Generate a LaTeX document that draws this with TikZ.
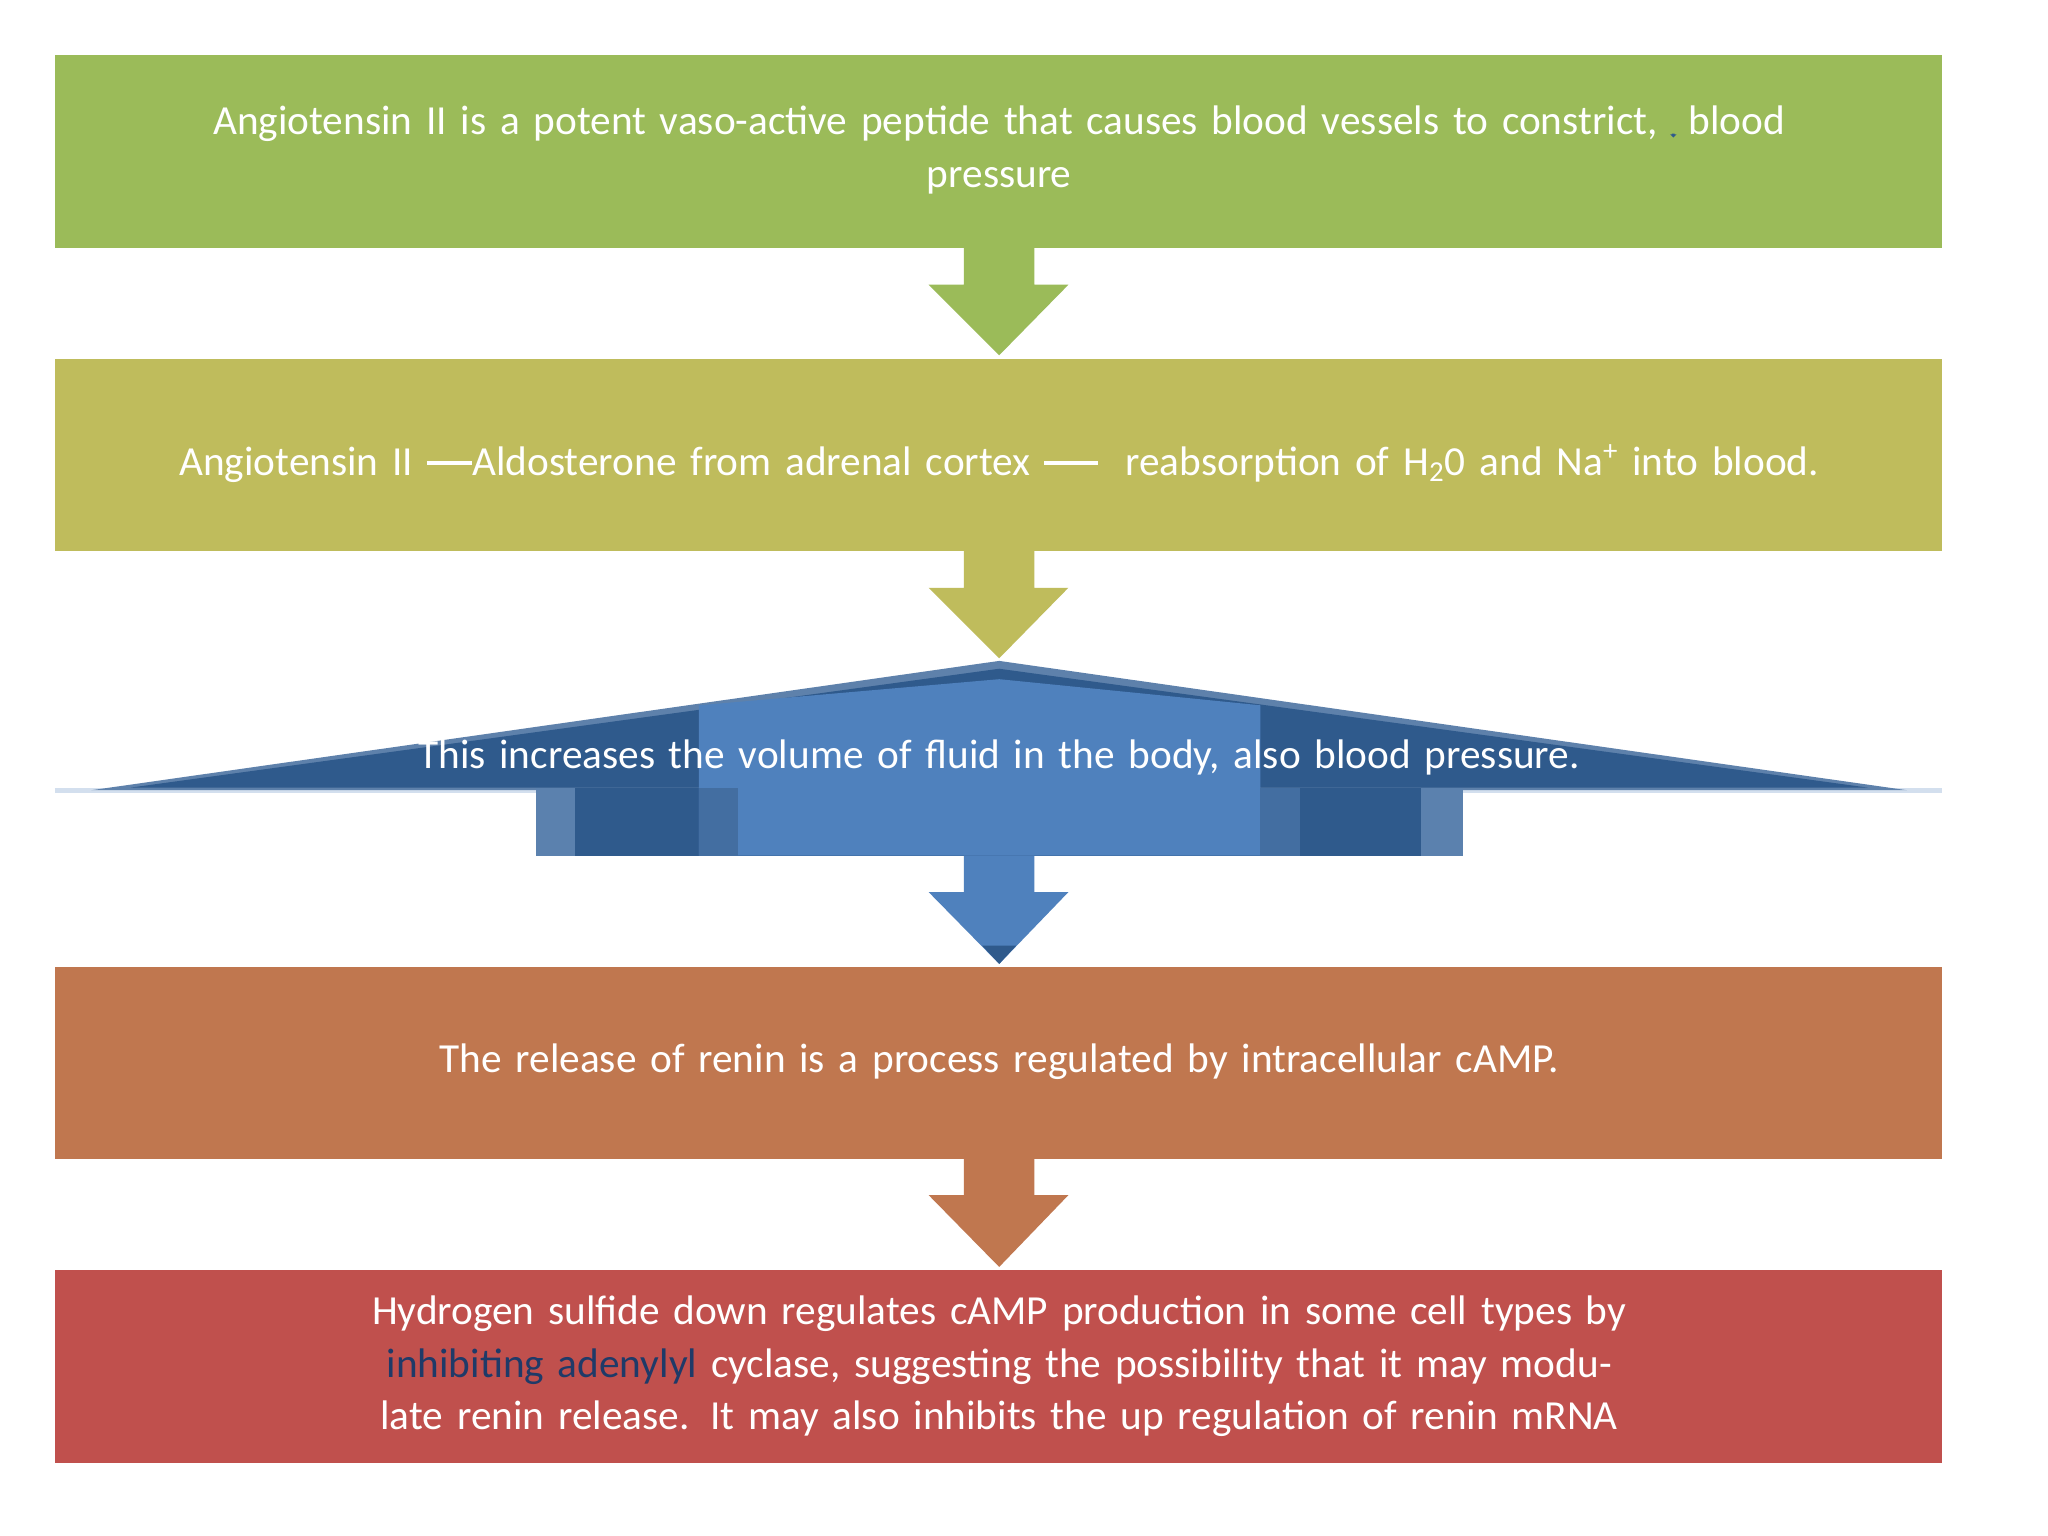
\documentclass[tikz,border=0pt]{standalone}
\usepackage{fontspec}
\setmainfont{Carlito}
\definecolor{gA}{HTML}{9BBB59}
\definecolor{oA}{HTML}{BFBC5C}
\definecolor{bA}{HTML}{4F81BD}
\definecolor{bD}{HTML}{2F5A8C}
\definecolor{rA}{HTML}{C0774F}
\definecolor{rB}{HTML}{C0504D}
\definecolor{tB}{HTML}{1F3A68}
\begin{document}
\begin{tikzpicture}[x=0.02cm,y=-0.02cm,
  txt/.style={text=white,font=\fontsize{18}{23}\selectfont,align=center,text width=28cm},
  box/.style={draw=none}]
\useasboundingbox (0,0) rectangle (1568,1176);
\fill[white] (0,0) rectangle (1568,1176);
\newcommand{\downarr}[3]{\fill[#1] (738,#2)--(792,#2)--(792,#2+28)--(818,#2+28)--(765,#3)--(711,#2+28)--(738,#2+28)--cycle;}
% box 1
\fill[gA] (42,42) rectangle (1487,190);
\node[txt] (t1) at (765,115) {Angiotensin II is a potent vaso-active peptide that causes blood vessels to constrict, \tikz[baseline=0pt]{\fill[bA,draw=bD,line width=1pt] (-0.22,-0.1)--(0.22,-0.1)--(0.22,0.45)--(0.4,0.45)--(0,0.85)--(-0.4,0.45)--(-0.22,0.45)--cycle;} blood\\ pressure};
\downarr{gA}{190}{272}
% box 2
\fill[oA] (42,275) rectangle (1487,422);
\node[txt] (t2) at (765,355) {Angiotensin II \rule[0.5ex]{1.1em}{2pt}Aldosterone from adrenal cortex \rule[0.5ex]{1.3em}{2pt}\ \ reabsorption of H\textsubscript{2}0 and Na\textsuperscript{+} into blood.};
\downarr{oA}{422}{504}
% box 3 (distorted)
\draw[line width=2pt,color=bA!25] (42,605) -- (1487,605);
\fill[bA!70!gray] (70,605) -- (765,506) -- (1460,605) -- cycle;
\fill[bD] (100,603) -- (765,512) -- (1430,603) -- cycle;
\fill[bA!75!gray] (410,603) rectangle (1120,655);
\fill[bD] (440,603) rectangle (1088,655);
\fill[bA] (535,540) -- (765,520) -- (965,540) -- (965,655) -- (535,655) -- cycle;
\fill[bA!85!black] (535,603) rectangle (565,655);
\fill[bA!85!black] (965,603) rectangle (995,655);
\node[txt] (t3) at (765,580) {This increases the volume of fluid in the body, also blood pressure.};
\downarr{bA}{655}{738}
\fill[bD] (752,724)--(778,724)--(765,738)--cycle;
% box 4
\fill[rA] (42,740) rectangle (1487,887);
\node[txt] (t4) at (765,813) {The release of renin is a process regulated by intracellular cAMP.};
\downarr{rA}{887}{970}
% box 5
\fill[rB] (42,972) rectangle (1487,1120);
\node[txt] (t5) at (765,1046) {Hydrogen sulfide down regulates cAMP production in some cell types by \textcolor{tB}{inhibiting adenylyl} cyclase, suggesting the possibility that it may modulate renin release. It may also inhibits the up regulation of renin mRNA};
\end{tikzpicture}
\end{document}
